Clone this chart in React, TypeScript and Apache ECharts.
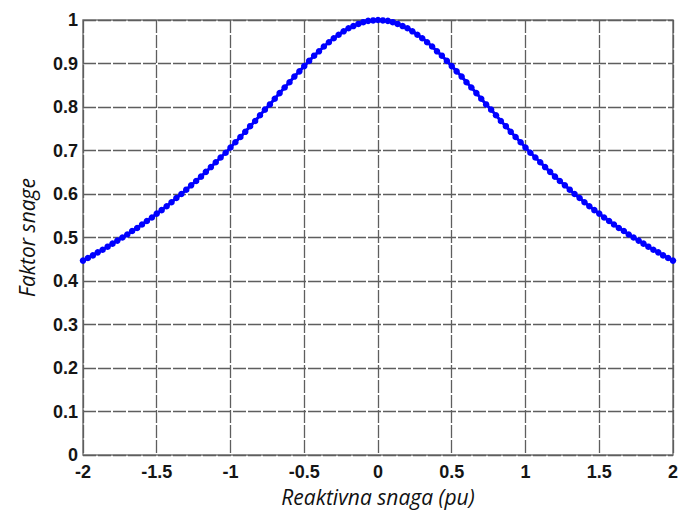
import React, { useEffect, useRef } from "react";
import * as echarts from "echarts";

// Reactive power (pu), sampled along the curve
const reactivePower: number[] = [
  -2, -1.967, -1.933, -1.9, -1.867, -1.833, -1.8, -1.767, -1.733, -1.7,
  -1.667, -1.633, -1.6, -1.567, -1.533, -1.5, -1.467, -1.433, -1.4, -1.367,
  -1.333, -1.3, -1.267, -1.233, -1.2, -1.167, -1.133, -1.1, -1.067, -1.033,
  -1, -0.967, -0.933, -0.9, -0.867, -0.833, -0.8, -0.767, -0.733, -0.7,
  -0.667, -0.633, -0.6, -0.567, -0.533, -0.5, -0.467, -0.433, -0.4, -0.367,
  -0.333, -0.3, -0.267, -0.233, -0.2, -0.167, -0.133, -0.1, -0.067, -0.033,
  0,
  0.033, 0.067, 0.1, 0.133, 0.167, 0.2, 0.233, 0.267, 0.3, 0.333,
  0.367, 0.4, 0.433, 0.467, 0.5, 0.533, 0.567, 0.6, 0.633, 0.667,
  0.7, 0.733, 0.767, 0.8, 0.833, 0.867, 0.9, 0.933, 0.967, 1,
  1.033, 1.067, 1.1, 1.133, 1.167, 1.2, 1.233, 1.267, 1.3, 1.333,
  1.367, 1.4, 1.433, 1.467, 1.5, 1.533, 1.567, 1.6, 1.633, 1.667,
  1.7, 1.733, 1.767, 1.8, 1.833, 1.867, 1.9, 1.933, 1.967, 2,
];

// Power factor
const powerFactor: number[] = [
  0.447, 0.453, 0.459, 0.466, 0.472, 0.479, 0.486, 0.493, 0.5, 0.507,
  0.515, 0.522, 0.53, 0.538, 0.546, 0.555, 0.563, 0.572, 0.581, 0.591,
  0.6, 0.61, 0.62, 0.63, 0.64, 0.651, 0.662, 0.673, 0.684, 0.695,
  0.707, 0.719, 0.731, 0.743, 0.756, 0.768, 0.781, 0.794, 0.806, 0.819,
  0.832, 0.845, 0.857, 0.87, 0.882, 0.894, 0.906, 0.918, 0.928, 0.939,
  0.949, 0.958, 0.966, 0.974, 0.981, 0.986, 0.991, 0.995, 0.998, 0.999,
  1.0,
  0.999, 0.998, 0.995, 0.991, 0.986, 0.981, 0.974, 0.966, 0.958, 0.949,
  0.939, 0.928, 0.918, 0.906, 0.894, 0.882, 0.87, 0.857, 0.845, 0.832,
  0.819, 0.806, 0.794, 0.781, 0.768, 0.756, 0.743, 0.731, 0.719, 0.707,
  0.695, 0.684, 0.673, 0.662, 0.651, 0.64, 0.63, 0.62, 0.61, 0.6,
  0.591, 0.581, 0.572, 0.563, 0.555, 0.546, 0.538, 0.53, 0.522, 0.515,
  0.507, 0.5, 0.493, 0.486, 0.479, 0.472, 0.466, 0.459, 0.453, 0.447,
];

const xAxisName = "Reaktivna snaga (pu)";
const yAxisName = "Faktor snage";

export default function App() {
  const ref = useRef<HTMLDivElement>(null);

  useEffect(() => {
    document.body.style.margin = "0";
    if (!ref.current) return;
    const chart = echarts.init(ref.current, null, { renderer: "svg" });
    const gridLine = {
      show: true,
      lineStyle: { color: "#5e5e5e", width: 1.3, type: [13, 2] as number[] },
    };
    const tickFont = {
      fontFamily: "Liberation Sans, Arial, sans-serif",
      fontWeight: "bold" as const,
      fontSize: 18,
      color: "#151515",
    };
    const nameFont = {
      fontFamily: "Open Sans, sans-serif",
      fontStyle: "italic" as const,
      fontSize: 21,
      color: "#111",
    };
    chart.setOption({
      animation: false,
      backgroundColor: "#ffffff",
      grid: {
        left: 83,
        right: 6,
        top: 20,
        bottom: 54,
        show: true,
        borderColor: "#777777",
        borderWidth: 1.5,
        backgroundColor: "#ffffff",
      },
      xAxis: {
        type: "value",
        min: -2,
        max: 2,
        interval: 0.5,
        name: xAxisName,
        nameLocation: "middle",
        nameGap: 29,
        nameTextStyle: nameFont,
        axisLine: { show: false },
        axisTick: { show: false },
        axisLabel: { ...tickFont, margin: 8 },
        splitLine: gridLine,
      },
      yAxis: {
        type: "value",
        min: 0,
        max: 1,
        interval: 0.1,
        name: yAxisName,
        nameLocation: "middle",
        nameGap: 46,
        nameTextStyle: nameFont,
        axisLine: { show: false },
        axisTick: { show: false },
        axisLabel: { ...tickFont, margin: 5 },
        splitLine: gridLine,
      },
      series: [
        {
          type: "line",
          data: reactivePower.map((q, i) => [q, powerFactor[i]]),
          symbol: "circle",
          symbolSize: 6.5,
          showSymbol: true,
          showAllSymbol: true,
          itemStyle: { color: "#0000ff" },
          lineStyle: { color: "#0000ff", width: 3 },
          clip: false,
        },
      ],
    });
    return () => chart.dispose();
  }, []);

  return <div ref={ref} style={{ width: 681, height: 512 }} />;
}
